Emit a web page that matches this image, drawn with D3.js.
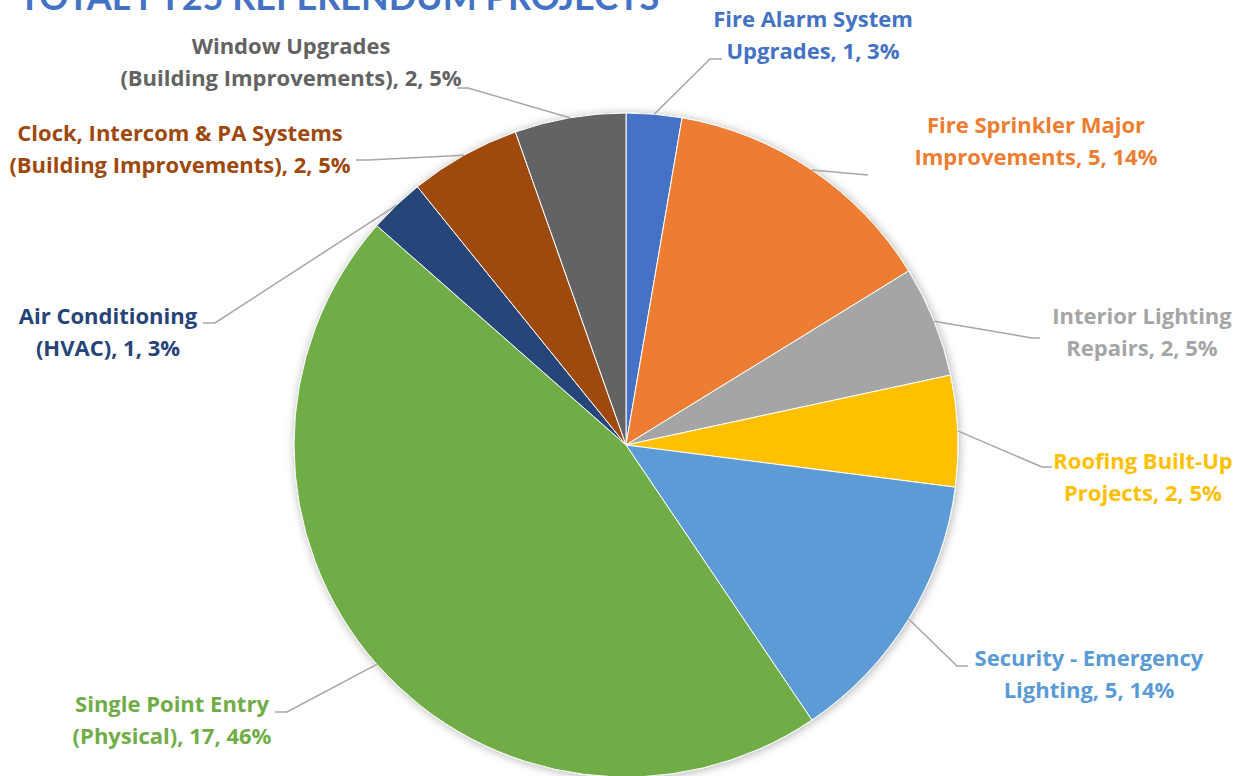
<!DOCTYPE html>
<html>
<head>
<meta charset="utf-8">
<script src="https://cdn.jsdelivr.net/npm/d3@7"></script>
<style>
  body { margin: 0; background: #fff; }
  svg { display: block; }
  .label { font-family: "Open Sans", Lato, sans-serif; font-weight: bold; font-size: 22px; }
  .title { font-family: Lato, "Open Sans", sans-serif; font-weight: bold; font-size: 36px; fill: #4472C4; }
</style>
</head>
<body>
<svg width="1251" height="776"></svg>
<script>
// **** data ****
var categories = [
    "Fire Alarm System\nUpgrades",
    "Fire Sprinkler Major\nImprovements",
    "Interior Lighting\nRepairs",
    "Roofing Built-Up\nProjects",
    "Security - Emergency\nLighting",
    "Single Point Entry\n(Physical)",
    "Air Conditioning\n(HVAC)",
    "Clock, Intercom & PA Systems\n(Building Improvements)",
    "Window Upgrades\n(Building Improvements)"
];
var values = [1, 5, 2, 2, 5, 17, 1, 2, 2];
var colors = ["#4472C4", "#ED7D31", "#A5A5A5", "#FFC000", "#5B9BD5",
              "#70AD47", "#264478", "#9E480E", "#636363"];

// label layout: text centre x, first line centre y, elbow point, end of horizontal stub
var labelLayout = [
    {x: 813,  y: 19,  elbow: [710, 59],  end: [722, 59]},
    {x: 1036, y: 125, elbow: [868, 175], end: [868, 175]},
    {x: 1142, y: 316, elbow: [1032, 338], end: [1040, 338]},
    {x: 1143, y: 461, elbow: [1042, 467], end: [1052, 467]},
    {x: 1089, y: 658, elbow: [957, 666], end: [968, 666]},
    {x: 172,  y: 704, elbow: [287, 712], end: [275, 712]},
    {x: 108,  y: 316, elbow: [215, 323], end: [203, 323]},
    {x: 180,  y: 133, elbow: [368, 160], end: [356, 160]},
    {x: 291,  y: 46,  elbow: [468, 88],  end: [457, 88]}
];

var cx = 626, cy = 445, radius = 332;
var total = d3.sum(values);

var svg = d3.select('svg');

var defs = svg.append('defs');
var filter = defs.append('filter').attr('id', 'shadow')
    .attr('x', '-10%').attr('y', '-10%').attr('width', '120%').attr('height', '120%');
filter.append('feDropShadow')
    .attr('dx', 1).attr('dy', 1)
    .attr('stdDeviation', 5)
    .attr('flood-color', '#000')
    .attr('flood-opacity', 0.3);

// title (cut off at top like the source)
svg.append('text')
    .attr('class', 'title')
    .attr('x', 339).attr('y', 10)
    .attr('text-anchor', 'middle')
    .text('TOTAL FY25 REFERENDUM PROJECTS');

var pie = d3.pie().sort(null).value(function(d) { return d; });
var arc = d3.arc().innerRadius(0).outerRadius(radius);
var arcs = pie(values);

var g = svg.append('g').attr('transform', 'translate(' + cx + ',' + cy + ')');

g.append('g').attr('filter', 'url(#shadow)')
    .selectAll('path')
    .data(arcs)
    .enter()
    .append('path')
    .attr('d', arc)
    .attr('fill', function(d, i) { return colors[i]; })
    .attr('stroke', '#fff')
    .attr('stroke-width', 1);

// leader lines
var line = d3.line();
svg.selectAll('path.leader')
    .data(arcs)
    .enter()
    .append('path')
    .attr('class', 'leader')
    .attr('d', function(d, i) {
        var a = (d.startAngle + d.endAngle) / 2;
        var p0 = [cx + radius * Math.sin(a), cy - radius * Math.cos(a)];
        return line([p0, labelLayout[i].elbow, labelLayout[i].end]);
    })
    .attr('fill', 'none')
    .attr('stroke', '#A6A6A6')
    .attr('stroke-width', 1.5);

// labels
var labels = svg.selectAll('text.label')
    .data(arcs)
    .enter()
    .append('text')
    .attr('class', 'label')
    .attr('text-anchor', 'middle')
    .attr('fill', function(d, i) { return colors[i]; });

labels.each(function(d, i) {
    var lines = categories[i].split('\n');
    var pct = Math.round(values[i] / total * 100);
    lines[lines.length - 1] += ', ' + values[i] + ', ' + pct + '%';
    var t = d3.select(this);
    lines.forEach(function(s, k) {
        t.append('tspan')
            .attr('x', labelLayout[i].x)
            .attr('y', labelLayout[i].y + k * 32.5)
            .attr('dy', '0.35em')
            .text(s);
    });
});
</script>
</body>
</html>
